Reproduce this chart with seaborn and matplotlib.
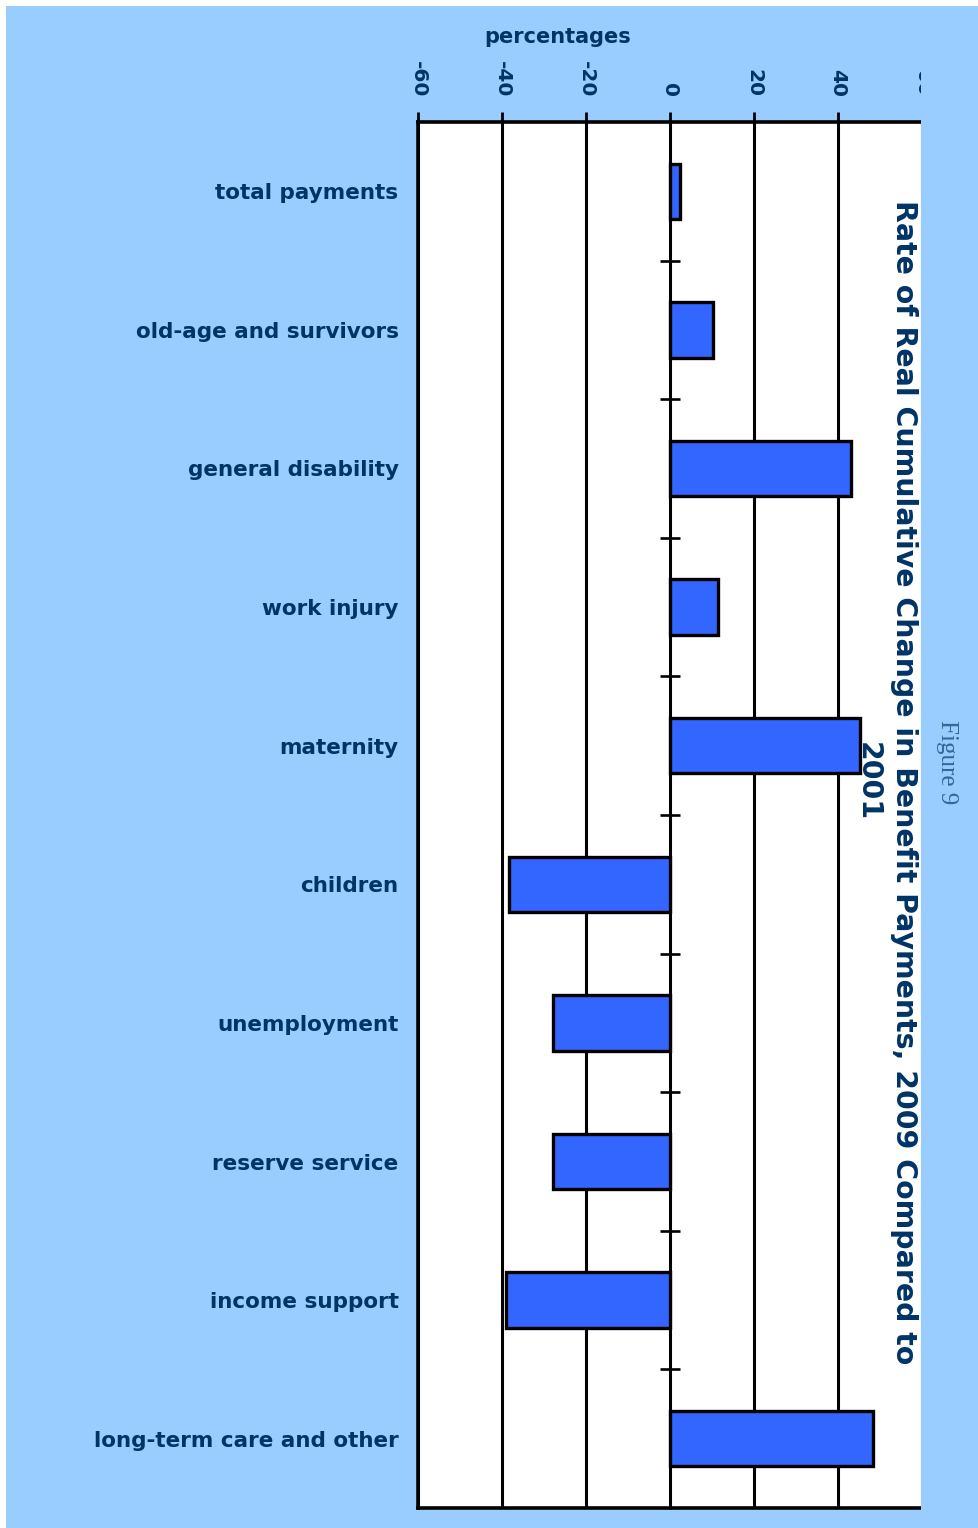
import matplotlib
matplotlib.use("Agg")
import matplotlib.pyplot as plt
from matplotlib.patches import Rectangle
import numpy as np
import pandas as pd
import seaborn as sns

# Real cumulative change in benefit payments, 2009 vs 2001 (percent)
categories = [
    "total payments",
    "old-age and survivors",
    "general disability",
    "work injury",
    "maternity",
    "children",
    "unemployment",
    "reserve service",
    "income support",
    "long-term care and other",
]
changes = [2.5, 10.2, 43.0, 11.5, 45.3, -38.4, -27.9, -27.9, -39.1, 48.4]
x_ticks = [-60, -40, -20, 0, 20, 40, 60]

NAVY = "#003366"
BAR = "#3366FF"
SKY = "#99CCFF"

sns.set_style("white")
plt.rcParams["font.family"] = ["DejaVu Sans"]
plt.rcParams["axes.unicode_minus"] = False

W, H = 979, 1528
fig = plt.figure(figsize=(W / 100, H / 100), dpi=100)
fig.patch.set_facecolor("white")
fig.patches.append(Rectangle((6 / W, 0), 1 - 6 / W, 1 - 6 / H,
                             transform=fig.transFigure, facecolor=SKY,
                             edgecolor="none", zorder=-10))

left, right, top, bottom = 418, 922, 122, 1508
ax = fig.add_axes([left / W, 1 - bottom / H, (right - left) / W, (bottom - top) / H])
ax.set_zorder(1)
ax.set_facecolor("white")

df = pd.DataFrame({"category": categories, "change": changes})
sns.barplot(data=df, x="change", y="category", orient="h", color=BAR,
            saturation=1, width=0.4, edgecolor="black", linewidth=2.4, ax=ax)

n = len(categories)
ax.set_xlim(-60, 60)
ax.set_ylim(n - 0.5, -0.5)
ax.set_xlabel("")
ax.set_ylabel("")

# zero line with small separator ticks between categories
ax.spines["right"].set_position(("data", 0))
ax.spines["right"].set_linewidth(1.9)
ax.spines["right"].set_color("black")

# vertical grid lines behind the bars
ax.set_axisbelow(True)
ax.set_xticks(x_ticks, labels=[str(v) for v in x_ticks])
ax.grid(axis="x", color="black", linewidth=2.2)
ax.grid(axis="y", visible=False)

# value axis on top, labels turned sideways
ax.xaxis.tick_top()
ax.tick_params(axis="x", which="major", direction="out", length=7, width=2,
               color="black", labelrotation=-90, pad=11, labelsize=14.5,
               labelcolor=NAVY)

# category labels on the left, no tick marks
ax.set_yticks(np.arange(n), labels=categories)
ax.tick_params(axis="y", which="major", left=True, right=False, length=0,
               pad=14, labelsize=15.5, labelcolor=NAVY)
ax.set_yticks(np.arange(n - 1) + 0.5, minor=True)
ax.tick_params(axis="y", which="minor", left=False, right=True,
               direction="inout", length=15, width=1.9, color="black")

for side in ["top", "left", "bottom"]:
    ax.spines[side].set_color("black")
    ax.spines[side].set_linewidth(2.6)

for lbl in ax.get_xticklabels() + ax.get_yticklabels():
    lbl.set_fontweight("bold")

# right margin band, drawn over the plot edge
band = fig.add_axes([921 / W, 0, 1 - 921 / W, 1 - 6 / H])
band.set_zorder(5)
band.set_facecolor(SKY)
band.set_xticks([])
band.set_yticks([])
for s in band.spines.values():
    s.set_visible(False)

fig.text(558 / W, 1 - 37 / H, "percentages", ha="center", va="center",
         fontsize=15, fontweight="bold", color=NAVY)

fig.text(886 / W, 1 - 782 / H,
         "Rate of Real Cumulative Change in Benefit Payments, 2009 Compared to\n2001",
         rotation=-90, ha="center", va="center", multialignment="center",
         fontsize=20.4, fontweight="bold", color=NAVY, linespacing=1.4,
         zorder=10)

fig.text(947 / W, 1 - 762 / H, "Figure 9", rotation=-90, ha="center",
         va="center", fontsize=18, family="Liberation Serif", color="#336699",
         zorder=10)

fig.savefig("out.png", dpi=100)
